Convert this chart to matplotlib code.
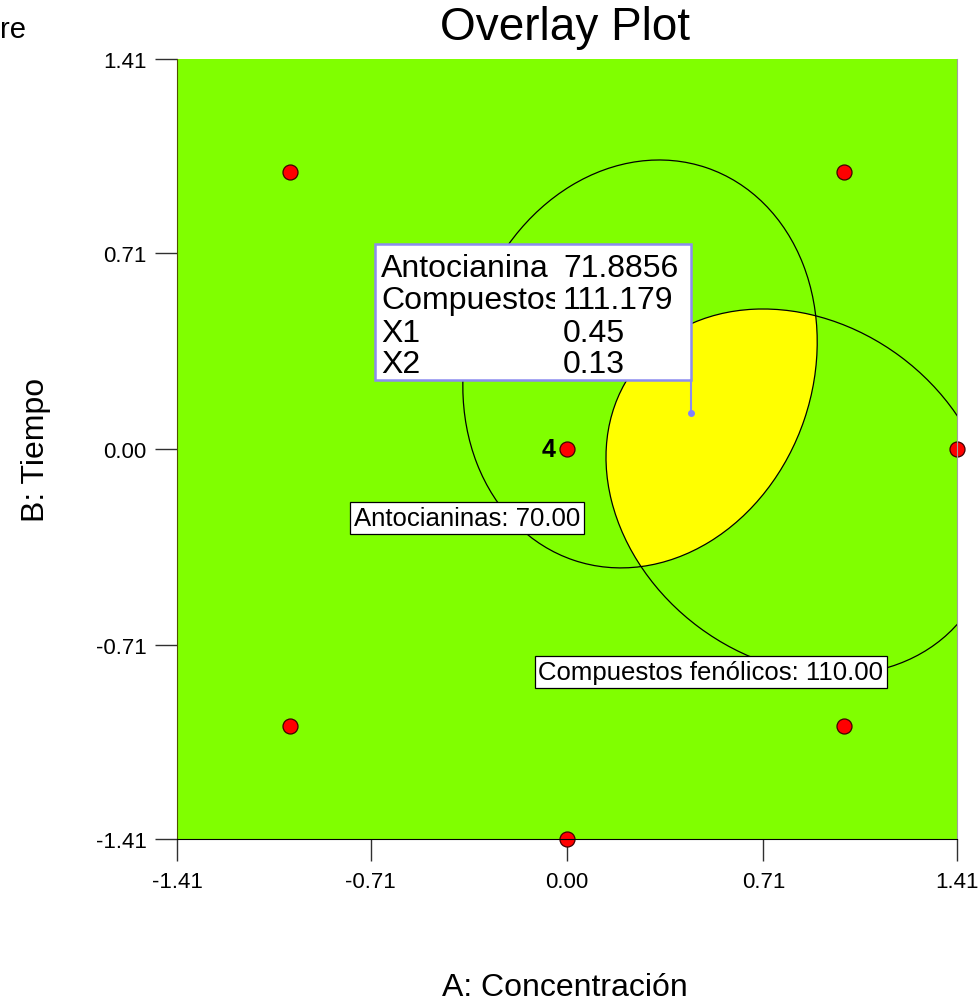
import matplotlib
matplotlib.use("Agg")
import matplotlib.pyplot as plt
from matplotlib.patches import Ellipse, Rectangle
from matplotlib.transforms import Bbox, TransformedBbox

plt.rcParams['font.family'] = ['Liberation Sans', 'DejaVu Sans']

# ---- data ----
title = "Overlay Plot"
x_label = "A: Concentración"
y_label = "B: Tiempo"
tick_values = [-1.41, -0.71, 0.00, 0.71, 1.41]
tick_labels = ["-1.41", "-0.71", "0.00", "0.71", "1.41"]

design_a = [-1, 1, -1, 1, 1.41, 0, 0]
design_b = [-1, -1, 1, 1, 0, -1.41, 0]
center_runs = "4"

contour_names = ["Antocianinas", "Compuestos fenólicos"]
contour_levels = [70.00, 110.00]
contour_center_a = [0.264, 0.841]
contour_center_b = [0.3075, -0.155]
contour_major = [0.749, 0.745]
contour_minor = [0.627, 0.610]
contour_angle = [71.3, -36.6]
label_pos_a = [-0.3615, 0.5206]
label_pos_b = [-0.2495, -0.806]

flag_a, flag_b = 0.45, 0.13
flag_names = ["Antocianina", "Compuestos", "X1", "X2"]
flag_values = ["71.8856", "111.179", "0.45", "0.13"]

# ---- figure ----
fig = plt.figure(figsize=(9.8, 10.04), dpi=100)
ax = fig.add_axes([177/980, 1-840/1004, 780/980, 780/1004])
ax.set_xlim(-1.41, 1.41)
ax.set_ylim(-1.41, 1.41)
ax.set_facecolor('#80ff00')

ells = []
for i in range(2):
    e = Ellipse((contour_center_a[i], contour_center_b[i]), 2*contour_major[i], 2*contour_minor[i],
                angle=contour_angle[i], facecolor='none', edgecolor='black', lw=0.9, zorder=3)
    ax.add_patch(e)
    ells.append(e)

# feasible region: inside both contours
yel = Ellipse((contour_center_a[1], contour_center_b[1]), 2*contour_major[1], 2*contour_minor[1],
              angle=contour_angle[1], facecolor='#ffff00', edgecolor='none', zorder=2)
ax.add_patch(yel)
yel.set_clip_path(ells[0])

for i in range(2):
    ax.text(label_pos_a[i], label_pos_b[i], f"{contour_names[i]}: {contour_levels[i]:.2f}",
            fontsize=18.5, ha='center', va='center', zorder=6,
            bbox=dict(boxstyle='square,pad=0.14', facecolor='white', edgecolor='black', lw=0.9))

ax.plot(design_a, design_b, 'o', ms=10.8, mfc='#ff0000', mec='#400000', mew=0.9,
        clip_on=False, zorder=7)
ax.annotate(center_runs, (0, 0), xytext=(-8, 0), textcoords='offset points',
            ha='right', va='center', fontsize=18, fontweight='bold', zorder=7)

# flag
box_x0, box_x1 = (375-177)/780, (691-177)/780
box_y0, box_y1 = (840-381)/780, (840-245)/780
ax.add_patch(Rectangle((box_x0, box_y0), box_x1-box_x0, box_y1-box_y0, transform=ax.transAxes,
                       facecolor='white', edgecolor='#8c8cf0', lw=1.8, zorder=8))
box_bottom_b = ax.transData.inverted().transform(ax.transAxes.transform((0, box_y0)))[1]
ax.plot([flag_a, flag_a], [flag_b, box_bottom_b], color='#8c8cf0', lw=1.5, zorder=8)
ax.plot([flag_a], [flag_b], 'o', ms=4, color='#8080ff', zorder=9)
rows_y = [(840-276.7)/780, (840-309.5)/780, (840-341.5)/780, (840-373.3)/780]
name_x = (381-177)/780
val_x = (563-177)/780
clip_right = (555-177)/780
clip_bb = TransformedBbox(Bbox([[name_x - 0.01, box_y0], [clip_right, box_y1]]), ax.transAxes)
for nm, val, yy in zip(flag_names, flag_values, rows_y):
    t = ax.text(name_x, yy, nm, transform=ax.transAxes, fontsize=23, va='baseline',
                ha='left', zorder=9)
    t.set_clip_on(True)
    t.set_clip_box(clip_bb)
    ax.text(val_x, yy, val, transform=ax.transAxes, fontsize=23, va='baseline',
            ha='left', zorder=10)

ax.set_xticks(tick_values)
ax.set_xticklabels(tick_labels)
ax.set_yticks(tick_values)
ax.set_yticklabels(tick_labels)
ax.tick_params(axis='both', direction='out', length=16, width=1, color='#303030',
               labelsize=16)
ax.tick_params(axis='x', pad=7)
ax.tick_params(axis='y', pad=6)
ax.spines['top'].set_visible(False)
ax.spines['left'].set_color('#505000')
ax.spines['right'].set_color('#a0a0a0')
ax.spines['bottom'].set_color('black')
for s in ax.spines.values():
    s.set_zorder(11)

fig.text(565/980, 1-28/1004, title, fontsize=33, ha='center', va='center')
fig.text(565/980, 1-988/1004, x_label, fontsize=23, ha='center', va='center')
fig.text(36/980, 1-450/1004, y_label, fontsize=23, ha='center', va='center', rotation=90)
fig.text(0, 1-30/1004, "re", fontsize=21, ha='left', va='center')

fig.savefig("out.png", dpi=100)
